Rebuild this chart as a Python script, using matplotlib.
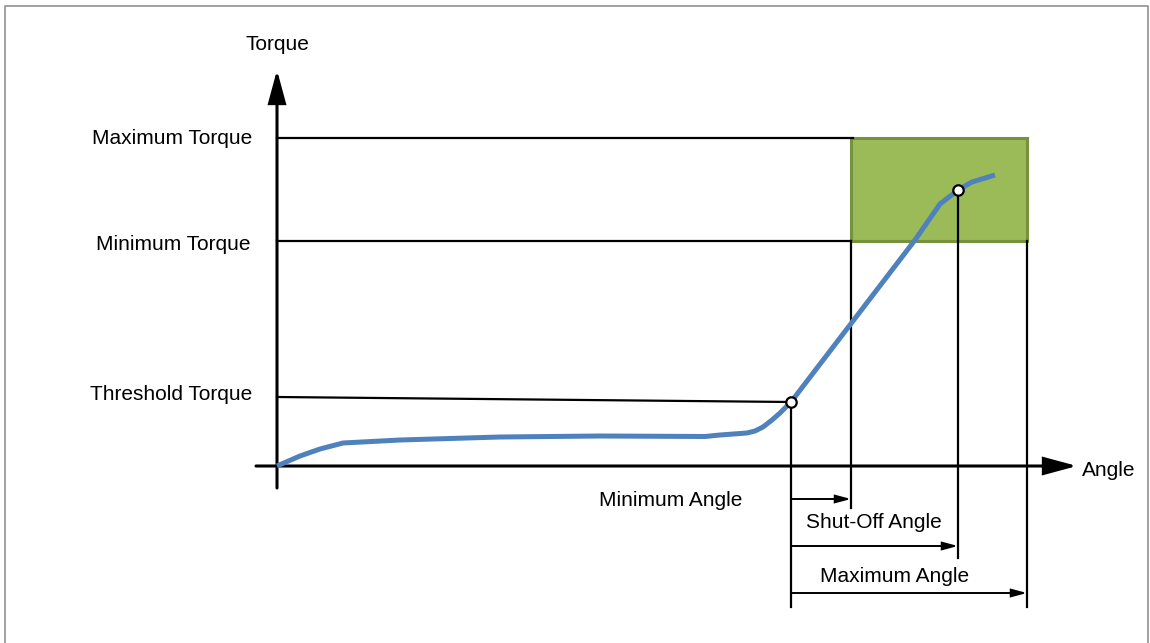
import matplotlib
matplotlib.use("Agg")
from matplotlib import pyplot as plt
from matplotlib.patches import Rectangle, ArrowStyle

plt.rcParams['font.family'] = ['Liberation Sans', 'DejaVu Sans']

# DATA (angle / torque units, origin at the axis crossing)
curve_angle = [0, 23, 43, 66, 123, 223, 323, 428, 443, 470, 478, 486, 495, 503, 514,
               638, 663, 681, 695, 718]
curve_torque = [0, 10, 17, 23, 26, 29, 30, 29.5, 31, 33, 35, 39, 46, 53, 64,
                226, 262, 276, 284, 291]

max_torque = 328
min_torque = 225
threshold_torque = [69, 64]     # start / end of the threshold line
min_angle = 514
shutoff_angle = 574
final_angle = 681
final_torque = 276
max_angle = 750

torque_labels = ["Maximum Torque", "Minimum Torque", "Threshold Torque"]
angle_labels = ["Minimum Angle", "Shut-Off Angle", "Maximum Angle"]

fig = plt.figure(figsize=(11.5, 6.43), dpi=100)
ax = fig.add_axes([0, 0, 1, 1])
ax.set_xlim(-277, 873)
ax.set_ylim(-177, 466)
ax.axis('off')

FS = 15
black = '#000000'

# outer frame
ax.plot([-272, -272, 871, 871], [-200, 460, 460, -200], color='#9a9a9a', lw=1.3, clip_on=False)

def arrow(x0, y0, x1, y1, hl, hw, lw):
    style = ArrowStyle('-|>', head_length=hl, head_width=hw)
    ax.annotate('', xy=(x1, y1), xytext=(x0, y0),
                arrowprops=dict(arrowstyle=style, mutation_scale=1, lw=lw, color=black,
                                shrinkA=0, shrinkB=0, joinstyle='miter'))

# axes
arrow(0, -22, 0, 396, 20, 5.4, 2.2)
arrow(-21, 0, 800, 0, 20, 5.4, 2.2)
ax.text(0, 422, "Torque", ha='center', va='center', fontsize=FS)
ax.text(805, -4, "Angle", ha='left', va='center', fontsize=FS)

# green acceptance window
ax.add_patch(Rectangle((shutoff_angle, min_torque), max_angle - shutoff_angle,
                       max_torque - min_torque, facecolor='#9bbb59', edgecolor='#76923c',
                       lw=2.2, zorder=1))

# torque level lines
ax.plot([0, shutoff_angle + 2], [max_torque, max_torque], color=black, lw=1.6, zorder=2)
ax.plot([0, shutoff_angle], [min_torque, min_torque], color=black, lw=1.6, zorder=2)
ax.plot([0, min_angle], threshold_torque, color=black, lw=1.6, zorder=2)

ax.text(-25, max_torque, torque_labels[0], ha='right', va='center', fontsize=FS)
ax.text(-27, min_torque - 4, torque_labels[1], ha='right', va='center', fontsize=FS)
ax.text(-25, 72, torque_labels[2], ha='right', va='center', fontsize=FS)

# vertical angle markers
ax.plot([min_angle, min_angle], [threshold_torque[1], -141], color=black, lw=1.6, zorder=2)
ax.plot([shutoff_angle, shutoff_angle], [min_torque, -42], color=black, lw=1.6, zorder=2)
ax.plot([final_angle, final_angle], [final_torque, -92], color=black, lw=1.6, zorder=2)
ax.plot([max_angle, max_angle], [min_torque, -141], color=black, lw=1.6, zorder=2)

# angle span arrows
arrow(min_angle, -33, shutoff_angle, -33, 9, 2.4, 1.4)
arrow(min_angle, -80, final_angle, -80, 9, 2.4, 1.4)
arrow(min_angle, -127, max_angle, -127, 9, 2.4, 1.4)

ax.text(394, -35, angle_labels[0], ha='center', va='center', fontsize=FS)
ax.text(597, -57, angle_labels[1], ha='center', va='center', fontsize=FS)
ax.text(618, -111, angle_labels[2], ha='center', va='center', fontsize=FS)

# torque curve
ax.plot(curve_angle, curve_torque, color='#4f81bd', lw=3.6, solid_joinstyle='round',
        solid_capstyle='butt', zorder=3)
ax.plot([min_angle, final_angle], [threshold_torque[1], final_torque], 'o', ms=7.5,
        mfc='white', mec=black, mew=1.6, zorder=4)

fig.savefig('out.png', dpi=100)
